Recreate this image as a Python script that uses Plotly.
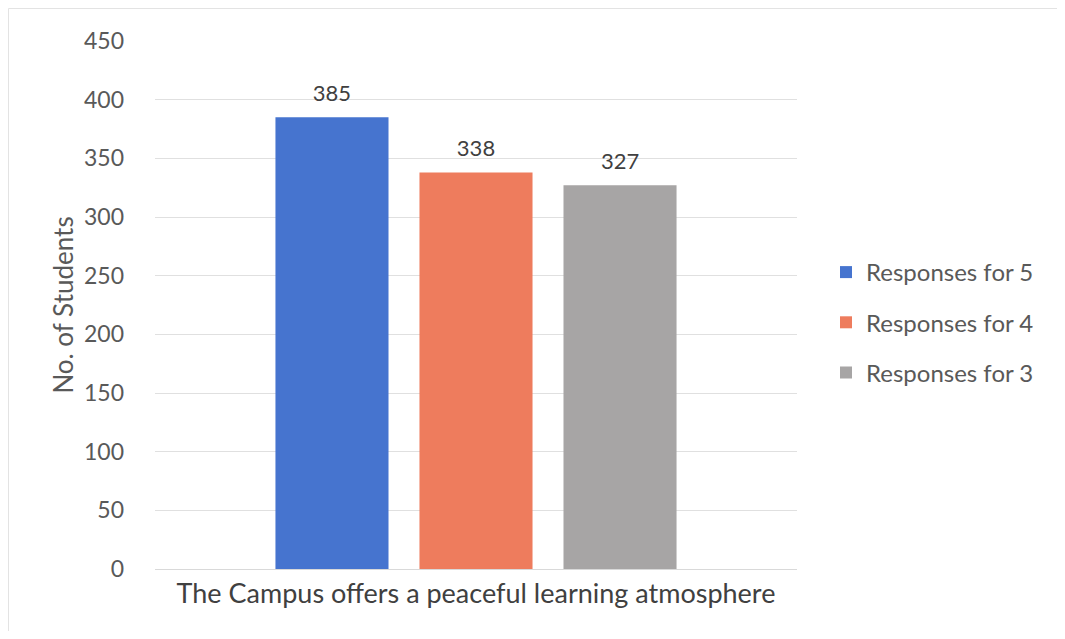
import plotly.graph_objects as go

category = ["The Campus offers a peaceful learning atmosphere"]
series_names = ["Responses for 5", "Responses for 4", "Responses for 3"]
series_values = [385, 338, 327]
series_colors = ["#4674cf", "#ee7c5d", "#a7a5a5"]
y_ticks = [0, 50, 100, 150, 200, 250, 300, 350, 400, 450]

OFF = 8  # default page body margin
W, H = 1065 - 2 * OFF, 639 - 2 * OFF
L, T = 155 - OFF, 41 - OFF
R = W - (797 - OFF)
B = H - (569 - OFF)
pw, ph = W - L - R, H - T - B

def px_x(x):
    return (x - OFF - L) / pw

def px_y(y):
    return (H - B - (y - OFF)) / ph

FONT = "Lato"
fig = go.Figure()
for name, val, col in zip(series_names, series_values, series_colors):
    fig.add_trace(go.Bar(
        x=category, y=[val], name=name, marker_color=col,
        marker_line_width=0, legendgroup=name, hoverinfo="skip",
    ))
for name, val in zip(series_names, series_values):
    fig.add_trace(go.Scatter(
        x=category, y=[val], mode="markers+text", text=[str(val)],
        textposition="top center",
        textfont=dict(family=FONT, size=22, color="#404040"),
        marker=dict(size=16, opacity=0), showlegend=False,
        legendgroup=name, hoverinfo="skip", cliponaxis=False,
    ))

fig.update_layout(
    width=W, height=H,
    margin=dict(l=L, r=R, t=T, b=B),
    paper_bgcolor="white", plot_bgcolor="white",
    barmode="group", bargap=0.327, bargroupgap=0.215,
    scattermode="group", scattergap=0.327,
    font=dict(family=FONT, color="#595959"),
    showlegend=True,
    legend=dict(
        x=px_x(826), y=px_y(250), xanchor="left", yanchor="top",
        font=dict(family=FONT, size=24, color="#595959"),
        tracegroupgap=16, traceorder="grouped",
        bgcolor="rgba(0,0,0,0)",
    ),
    shapes=[dict(
        type="rect", xref="paper", yref="paper",
        x0=px_x(8.5), x1=px_x(1058), y0=px_y(633), y1=px_y(8.5),
        line=dict(color="#e3e3e3", width=1), layer="below",
    )],
)
fig.update_xaxes(
    showgrid=False, showline=False, zeroline=False, ticks="",
    ticklabelstandoff=6, automargin=False,
    tickfont=dict(family=FONT, size=27, color="#404040"),
)
fig.update_yaxes(
    range=[0, 450], tickvals=y_ticks, ticktext=[str(v) for v in y_ticks],
    showgrid=True, gridcolor="#e0e0e0", gridwidth=1,
    zeroline=True, zerolinecolor="#d9d9d9", zerolinewidth=1,
    showline=False, ticks="", ticklabelstandoff=30, automargin=False,
    tickfont=dict(family=FONT, size=23, color="#595959"),
    title=dict(text="No. of Students", font=dict(family=FONT, size=26, color="#595959"), standoff=2),
)

fig.write_html("out.html")
